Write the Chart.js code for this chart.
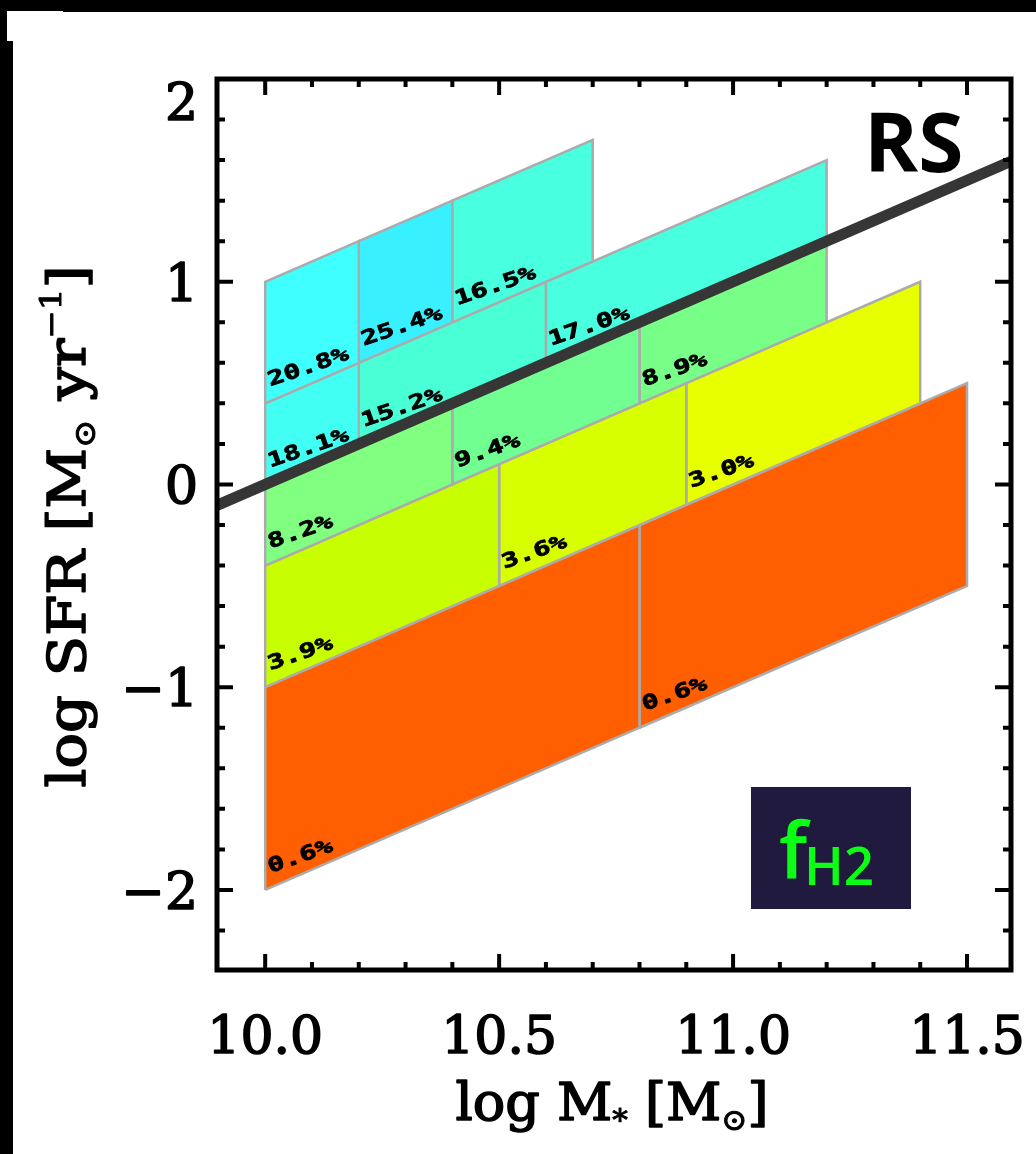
<!DOCTYPE html>
<html>
<head>
<meta charset="UTF-8">
<title>fH2 SFR-M grid</title>
<style>
html, body{
	margin: 0;
	padding: 0;
	overflow: hidden;
	background-color: #fff;
}
#myChart{
	display: block;
}
</style>
</head>
<body>
<canvas id="myChart" width="1036" height="1154"></canvas>
<script src="https://cdn.jsdelivr.net/npm/chart.js@4.4.0/dist/chart.umd.min.js"></script>
<script>
// axis ticks
const xTicks = [10.0, 10.5, 11.0, 11.5];
const yTicks = [-2, -1, 0, 1, 2];

// sSFR bands (log SFR - log M*) of each row
const rowTop    = [-9.0, -9.6, -10.0, -10.4, -11.0];
const rowBottom = [-9.6, -10.0, -10.4, -11.0, -12.0];

// cells: row, mass range, molecular gas fraction
const cellRow    = [0, 0, 0, 1, 1, 1, 2, 2, 2, 3, 3, 3, 4, 4];
const cellMassLo = [10.0, 10.2, 10.4, 10.0, 10.2, 10.6, 10.0, 10.4, 10.8, 10.0, 10.5, 10.9, 10.0, 10.8];
const cellMassHi = [10.2, 10.4, 10.7, 10.2, 10.6, 11.2, 10.4, 10.8, 11.2, 10.5, 10.9, 11.4, 10.8, 11.5];
const cellFH2    = [20.8, 25.4, 16.5, 18.1, 15.2, 17.0, 8.2, 9.4, 8.9, 3.9, 3.6, 3.0, 0.6, 0.6];
const cellColors = ['#40ffff', '#38f0ff', '#48ffe0', '#42fff4', '#48ffd6', '#48ffe0',
	'#80ff80', '#70ff90', '#78ff88', '#c8ff00', '#d8ff00', '#e8ff00', '#ff5f00', '#ff5f00'];

// RS (ridge of star formation) line
const rsMass = [9.897, 11.594];
const rsSFR  = [-0.103, 1.594];

let datasets = [{
	label: 'RS',
	data: rsMass.map((m, i) => ({x: m, y: rsSFR[i]})),
	showLine: true,
	borderColor: '#363636',
	borderWidth: 11,
	pointRadius: 0,
	fill: false,
	clip: 0,
	order: 0
}];
for (let i = 0; i < cellFH2.length; i++) {
	const lo = cellMassLo[i], hi = cellMassHi[i];
	const t = rowTop[cellRow[i]], b = rowBottom[cellRow[i]];
	datasets.push({
		label: cellFH2[i].toFixed(1) + '%',
		data: [{x: lo, y: lo + b}, {x: lo, y: lo + t}, {x: hi, y: hi + t}, {x: hi, y: hi + b}, {x: lo, y: lo + b}],
		showLine: true,
		fill: 'shape',
		backgroundColor: cellColors[i],
		borderColor: '#ababab',
		borderWidth: 2.5,
		pointRadius: 0,
		order: 1
	});
}

// text drawn a bit heavier (the original fonts are bold-ish)
function heavyText(ctx, s, x, y, w) {
	ctx.lineWidth = w;
	ctx.lineJoin = 'round';
	ctx.strokeStyle = ctx.fillStyle;
	ctx.strokeText(s, x, y);
	ctx.fillText(s, x, y);
}

// draws frame, inward ticks, labels and the texts
const framePlugin = {
	id: 'frame',
	beforeDraw(chart) {
		const ctx = chart.ctx;
		ctx.save();
		ctx.fillStyle = '#fff';
		ctx.fillRect(0, 0, chart.width, chart.height);
		ctx.fillStyle = '#000';
		ctx.fillRect(0, 0, chart.width, 12);
		ctx.fillRect(0, 0, 13, chart.height);
		ctx.fillStyle = '#fff';
		ctx.fillRect(7, 11, 56, 30);
		ctx.restore();
	},
	afterDatasetsDraw(chart) {
		const ctx = chart.ctx;
		const xs = chart.scales.x, ys = chart.scales.y;
		const a = chart.chartArea;
		ctx.save();

		// cell labels
		ctx.fillStyle = '#000';
		for (let i = 0; i < cellFH2.length; i++) {
			const lo = cellMassLo[i], b = rowBottom[cellRow[i]];
			const x0 = xs.getPixelForValue(lo) + 5;
			const y0 = ys.getPixelForValue(lo + b) - 17;
			ctx.save();
			ctx.translate(x0, y0);
			ctx.rotate(-19 * Math.PI / 180);
			ctx.scale(1.4, 1);
			ctx.font = 'bold 20px "DejaVu Sans Mono"';
			ctx.textAlign = 'left';
			ctx.textBaseline = 'alphabetic';
			heavyText(ctx, cellFH2[i].toFixed(1) + '%', 0, 0, 0.8);
			ctx.restore();
		}

		// ticks (inward, all four sides)
		ctx.strokeStyle = '#000';
		ctx.lineWidth = 4;
		function xt(v, len) {
			const p = xs.getPixelForValue(v);
			ctx.beginPath();
			ctx.moveTo(p, a.bottom); ctx.lineTo(p, a.bottom - len);
			ctx.moveTo(p, a.top); ctx.lineTo(p, a.top + len);
			ctx.stroke();
		}
		function yt(v, len) {
			const p = ys.getPixelForValue(v);
			ctx.beginPath();
			ctx.moveTo(a.left, p); ctx.lineTo(a.left + len, p);
			ctx.moveTo(a.right, p); ctx.lineTo(a.right - len, p);
			ctx.stroke();
		}
		xTicks.forEach(v => xt(v, 16));
		for (let k = 101; k <= 115; k++) {
			if (k % 5 != 0) xt(k / 10, 8);
		}
		yTicks.forEach(v => yt(v, 16));
		for (let k = -11; k <= 9; k++) {
			if (k % 5 != 0) yt(k / 5, 8);
		}

		// frame
		ctx.lineWidth = 5;
		ctx.strokeRect(a.left, a.top, a.right - a.left, a.bottom - a.top);

		// tick labels
		ctx.fillStyle = '#000';
		ctx.font = '52px "DejaVu Serif"';
		ctx.textAlign = 'center';
		ctx.textBaseline = 'alphabetic';
		xTicks.forEach(v => {
			heavyText(ctx, v.toFixed(1), xs.getPixelForValue(v), a.bottom + 83, 1.6);
		});
		ctx.textAlign = 'right';
		yTicks.forEach(v => {
			const p = Math.max(ys.getPixelForValue(v), a.top + 22);
			const s = v < 0 ? '\u2212' + Math.abs(v) : String(v);
			heavyText(ctx, s, a.left - 19, p + 19, 1.6);
		});

		// axis titles
		function runs(list, target) {
			let w = 0;
			list.forEach(r => { ctx.font = r[1] + 'px "DejaVu Serif"'; w += ctx.measureText(r[0]).width; });
			const k = target / w;
			ctx.save();
			ctx.scale(k, 1);
			let cx = -w / 2;
			ctx.textAlign = 'left';
			list.forEach(r => {
				ctx.font = r[1] + 'px "DejaVu Serif"';
				heavyText(ctx, r[0], cx, r[2], r[1] > 40 ? 1.6 : 1);
				cx += ctx.measureText(r[0]).width;
			});
			ctx.restore();
		}
		ctx.save();
		ctx.translate((a.left + a.right) / 2 - 2, a.bottom + 150);
		runs([['log M', 52, 0], ['*', 30, 10], [' [M', 52, 0], ['\u2299', 30, 10], [']', 52, 0]], 313);
		ctx.restore();

		ctx.save();
		ctx.translate(85, (a.top + a.bottom) / 2 + 2);
		ctx.rotate(-Math.PI / 2);
		runs([['log SFR [M', 52, 0], ['\u2299', 30, 10], [' yr', 52, 0], ['\u22121', 30, -24], [']', 52, 0]], 522);
		ctx.restore();

		// RS tag
		ctx.fillStyle = '#000';
		ctx.font = 'bold 82px "Open Sans"';
		ctx.textAlign = 'left';
		ctx.fillText('RS', 864, 172);

		// fH2 tag
		ctx.fillStyle = '#1f1a3e';
		ctx.fillRect(751, 787, 160, 122);
		ctx.fillStyle = '#0aff14';
		ctx.font = '600 78px "Open Sans"';
		ctx.fillText('f', 779, 878);
		ctx.font = '600 53px "Open Sans"';
		ctx.fillText('H2', 804, 885);

		ctx.restore();
	}
};

const ctx = document.getElementById('myChart');
new Chart(ctx, {
	type: 'scatter',
	data: {datasets: datasets},
	options: {
		responsive: false,
		animation: false,
		devicePixelRatio: 1,
		layout: {padding: {left: 217, top: 79, right: 25, bottom: 184}},
		plugins: {legend: {display: false}, tooltip: {enabled: false}},
		scales: {
			x: {type: 'linear', display: false, min: 9.897, max: 11.594},
			y: {type: 'linear', display: false, min: -2.395, max: 2}
		}
	},
	plugins: [framePlugin]
});
</script>
</body>
</html>
